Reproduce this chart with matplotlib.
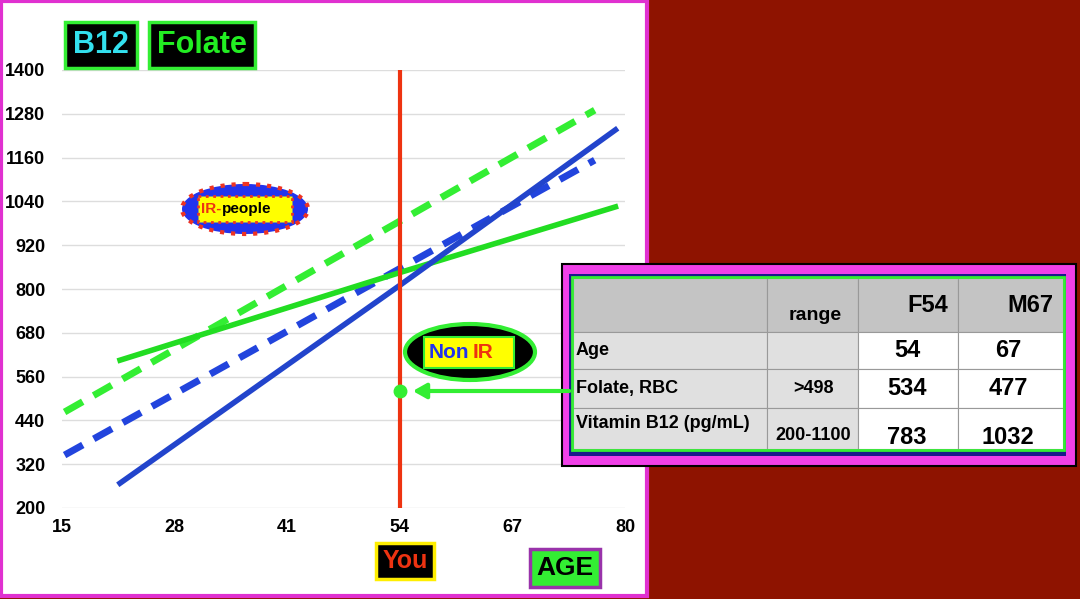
import matplotlib.pyplot as plt
import matplotlib.patches as patches

plt.rcParams['font.family'] = ['Liberation Sans', 'DejaVu Sans']

# ---- data ----
ages_dash = [15.3, 76.5]
folate_dash = [463, 1290]
b12_dash = [345, 1153]
ages_solid = [21.7, 54, 78.9]
b12_solid = [268, 810, 1236]
folate_solid = [605, 845, 1025]
you_age = 54
you_folate = 520
xticks = [15, 28, 41, 54, 67, 80]
yticks = list(range(200, 1401, 120))

col_heads = ['', 'range', 'F54', 'M67']
row_names = ['Age', 'Folate, RBC', 'Vitamin B12 (pg/mL)']
ranges = ['', '>498', '200-1100']
f54 = ['54', '534', '783']
m67 = ['67', '477', '1032']

W, H = 1080, 599
fig = plt.figure(figsize=(W / 100, H / 100), dpi=100)
fig.patch.set_facecolor('#8e1300')

# background panel
bg = fig.add_axes([0, 0, 1, 1], zorder=0)
bg.set_xlim(0, W); bg.set_ylim(H, 0); bg.axis('off')
bg.add_patch(patches.Rectangle((1, 1), 646, 595, facecolor='white',
                               edgecolor='#e030d0', lw=3))

ax = fig.add_axes([62 / W, 1 - 508 / H, 563 / W, 438 / H], zorder=1)
ax.patch.set_alpha(0)
ax.set_xlim(15, 80); ax.set_ylim(200, 1400)
ax.set_xticks(xticks); ax.set_yticks(yticks)
ax.grid(axis='y', color='#dddddd', lw=1)
for s in ax.spines.values():
    s.set_visible(False)
ax.tick_params(length=0, labelsize=13, pad=8)
for t in ax.get_xticklabels() + ax.get_yticklabels():
    t.set_fontweight('bold')
ax.tick_params(axis='y', pad=12)

ax.plot(ages_dash, folate_dash, color='#33ee33', lw=5, ls=(0, (3, 1.8)))
ax.plot(ages_dash, b12_dash, color='#2244dd', lw=5, ls=(0, (3, 1.8)))
ax.plot(ages_solid, folate_solid, color='#22dd22', lw=4)
ax.plot(ages_solid, b12_solid, color='#2244cc', lw=4)
ax.plot([you_age, you_age], [200, 1400], color='#ee3311', lw=3)
ax.plot(you_age, you_folate, 'o', color='#33ee33', ms=9)

# decorations on top
ov = fig.add_axes([0, 0, 1, 1], zorder=2)
ov.set_xlim(0, W); ov.set_ylim(H, 0); ov.axis('off')
ov.patch.set_alpha(0)

def tbox(x, y, txt, fc, ec, tc, fs, pad=0.25):
    ov.text(x, y, txt, ha='center', va='center', fontsize=fs, fontweight='bold',
            color=tc, bbox=dict(boxstyle=f'square,pad={pad}', fc=fc, ec=ec, lw=2.5))

tbox(101, 45, 'B12', 'black', '#33ee33', '#33e0ee', 22)
tbox(202, 45, 'Folate', 'black', '#33ee33', '#22ee22', 22)
tbox(405, 561, 'You', 'black', '#ffee00', '#ee3311', 18)
tbox(565, 568, 'AGE', '#33ee33', '#9933aa', 'black', 19)

# IR-people ellipse
ov.add_patch(patches.Ellipse((245, 209), 126, 50, fc='#2233ee', ec='#ee3322',
                             lw=3, ls=':'))
ov.add_patch(patches.Rectangle((198, 196), 94, 26, fc='#ffff00', ec='#ee3322',
                               lw=2, ls=':'))
ov.text(201, 209, 'IR-', color='#ee3311', fontsize=11, fontweight='bold', va='center')
ov.text(222, 209, 'people', color='black', fontsize=11, fontweight='bold', va='center')

# Non IR ellipse
ov.add_patch(patches.Ellipse((470, 352), 130, 56, fc='black', ec='#33ee33', lw=3))
ov.add_patch(patches.Rectangle((424, 337), 90, 31, fc='#ffff00', ec='#33ee33', lw=1.5))
ov.text(429, 353, 'Non', color='#2233ee', fontsize=15, fontweight='bold', va='center')
ov.text(473, 353, 'IR', color='#ee3311', fontsize=15, fontweight='bold', va='center')

# arrow from table to point
ov.annotate('', xy=(410, 391), xytext=(572, 391),
            arrowprops=dict(arrowstyle='-|>,head_length=0.8,head_width=0.45',
                            color='#33ee33', lw=3))

# table
ov.add_patch(patches.Rectangle((562, 264), 514, 202, fc='#f040e8', ec='black', lw=1.5))
ov.add_patch(patches.Rectangle((569, 274), 497, 182, fc='#1a1a8a', ec='none'))
xs = [573, 767, 858, 958, 1063]
ys = [278, 332, 369, 408, 449]
for r in range(4):
    for c in range(4):
        if r == 0:
            fc = '#c4c4c4'
        elif c < 2:
            fc = '#e0e0e0'
        else:
            fc = 'white'
        ov.add_patch(patches.Rectangle((xs[c], ys[r]), xs[c + 1] - xs[c], ys[r + 1] - ys[r],
                                       fc=fc, ec='#999999', lw=0.8))
ov.add_patch(patches.Rectangle((572, 277), 492, 173, fc='none', ec='#33ee33', lw=2))
for c, h in enumerate(col_heads):
    if h:
        if c == 1:
            ov.text(815, 316, h, ha='center', va='center', fontsize=14, fontweight='bold')
        else:
            ov.text(xs[c + 1] - 10, 305, h, ha='right', va='center', fontsize=17, fontweight='bold')
for r in range(3):
    yc = (ys[r + 1] + ys[r + 2]) / 2
    ov.text(576, yc if r < 2 else 424, row_names[r], ha='left', va='center',
            fontsize=13, fontweight='bold')
    ov.text(813, yc if r < 2 else 436, ranges[r], ha='center', va='center',
            fontsize=13, fontweight='bold')
    ov.text(907, yc if r < 2 else 437, f54[r], ha='center', va='center',
            fontsize=17, fontweight='bold')
    ov.text(1008, yc if r < 2 else 437, m67[r], ha='center', va='center',
            fontsize=17, fontweight='bold')

fig.savefig('out.png', dpi=100, facecolor=fig.get_facecolor())
